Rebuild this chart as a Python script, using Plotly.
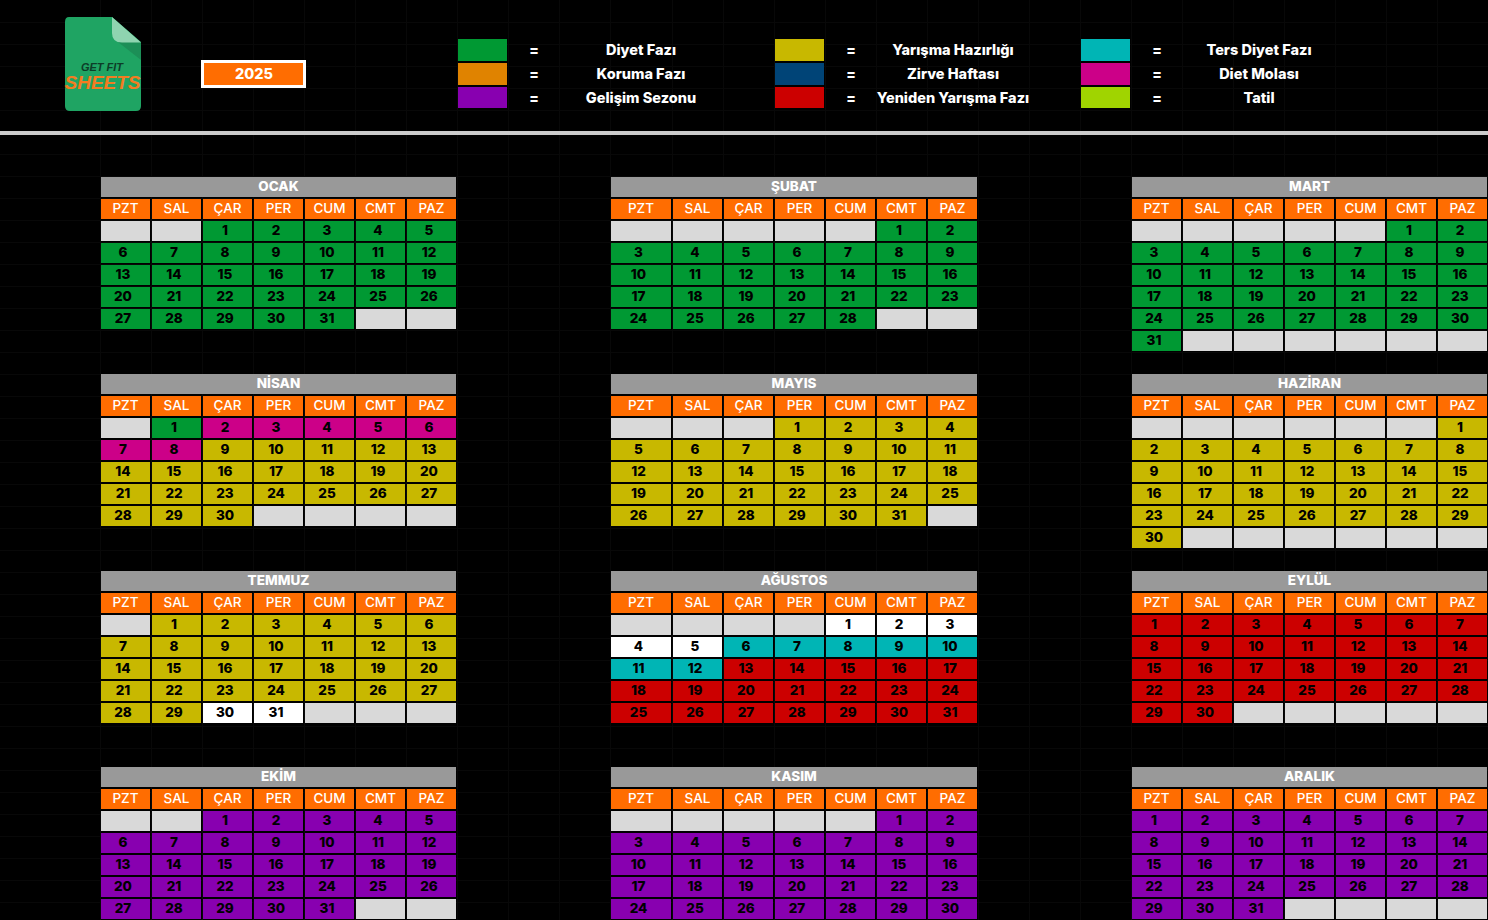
#!/usr/bin/env python3
# -*- coding: utf-8 -*-

import plotly.graph_objects as go

YEAR = "2025"
WEEKDAYS = ["PZT", "SAL", "ÇAR", "PER", "CUM", "CMT", "PAZ"]
MONTHS = ["OCAK", "ŞUBAT", "MART", "NİSAN", "MAYIS", "HAZİRAN",
          "TEMMUZ", "AĞUSTOS", "EYLÜL", "EKİM", "KASIM", "ARALIK"]
# weekday of the 1st (0 = PZT)
FIRST_WEEKDAY = [2, 5, 5, 1, 3, 6, 1, 4, 0, 2, 5, 0]
ROW_COUNT = [5, 5, 6, 5, 5, 6, 5, 5, 5, 5, 5, 5]
# (phase, number of days) in date order for each month
MONTH_PHASES = [
    [("diyet", 31)],
    [("diyet", 28)],
    [("diyet", 31)],
    [("diyet", 1), ("mola", 7), ("hazirlik", 22)],
    [("hazirlik", 31)],
    [("hazirlik", 30)],
    [("hazirlik", 29), ("bos_beyaz", 2)],
    [("bos_beyaz", 5), ("ters", 7), ("yeniden", 19)],
    [("yeniden", 30)],
    [("gelisim", 31)],
    [("gelisim", 30)],
    [("gelisim", 31)],
]

LEGEND_KEYS = [["diyet", "koruma", "gelisim"],
               ["hazirlik", "zirve", "yeniden"],
               ["ters", "mola", "tatil"]]
LEGEND_LABELS = [["Diyet Fazı", "Koruma Fazı", "Gelişim Sezonu"],
                 ["Yarışma Hazırlığı", "Zirve Haftası", "Yeniden Yarışma Fazı"],
                 ["Ters Diyet Fazı", "Diet Molası", "Tatil"]]

COLORS = {
    "diyet": "#009933",
    "koruma": "#e08300",
    "gelisim": "#8800b0",
    "hazirlik": "#c8b800",
    "zirve": "#004477",
    "yeniden": "#cc0000",
    "ters": "#00b5b5",
    "mola": "#cc0088",
    "tatil": "#a0d400",
    "bos_beyaz": "#ffffff",
    "bos": "#d9d9d9",
    "baslik": "#999999",
    "gun": "#ff6d01",
}
KEYS = list(COLORS)
COLORSCALE = [[i / (len(KEYS) - 1), COLORS[k]] for i, k in enumerate(KEYS)]

# page layout, in screen pixels
W, H = 1488, 920
COL_LEFT = [100, 610, 1131]
FIRST_COL_WIDTH = [51, 62, 51]
ROW_TOP = [176, 373, 570, 766]
PITCH_X, PITCH_Y = 51, 22
FONT = "Inter"

fig = go.Figure()


def add_cells(x_edges, y_edges, keys, xgap=2, ygap=2):
    fig.add_trace(go.Heatmap(
        x=x_edges, y=y_edges,
        z=[[KEYS.index(k) for k in row] for row in keys],
        colorscale=COLORSCALE, zmin=0, zmax=len(KEYS) - 1,
        showscale=False, xgap=xgap, ygap=ygap, hoverinfo="skip"))


def add_text(xs, ys, texts, size, color, weight=700, family=FONT, style="normal"):
    fig.add_trace(go.Scatter(
        x=xs, y=ys, text=texts, mode="text", textposition="middle center",
        textfont=dict(family=family, size=size, color=color, weight=weight,
                      style=style),
        showlegend=False, hoverinfo="skip"))


title_x, title_y, title_t = [], [], []
head_x, head_y, head_t = [], [], []
day_x, day_y, day_t = [], [], []

for m, month in enumerate(MONTHS):
    left = COL_LEFT[m % 3]
    top = ROW_TOP[m // 3]
    x_edges = [left, left + FIRST_COL_WIDTH[m % 3]]
    for c in range(6):
        x_edges.append(x_edges[-1] + PITCH_X)
    rows = ROW_COUNT[m]
    y_edges = [top + PITCH_Y * (r + 1) for r in range(rows + 2)]

    phases = []
    for phase, count in MONTH_PHASES[m]:
        phases += [phase] * count
    cells = ["bos"] * FIRST_WEEKDAY[m] + phases
    cells += ["bos"] * (7 * rows - len(cells))
    keys = [["gun"] * 7] + [cells[r * 7:r * 7 + 7] for r in range(rows)]

    add_cells([x_edges[0], x_edges[-1]], [top, top + PITCH_Y], [["baslik"]])
    add_cells(x_edges, y_edges, keys)

    title_x.append((x_edges[0] + x_edges[-1]) / 2)
    title_y.append(top + 11.5)
    title_t.append(month)
    for c, name in enumerate(WEEKDAYS):
        head_x.append((x_edges[c] + x_edges[c + 1]) / 2)
        head_y.append(y_edges[0] + 11.5)
        head_t.append(name)
    for d in range(len(phases)):
        pos = FIRST_WEEKDAY[m] + d
        c = pos % 7
        day_x.append((x_edges[c] + x_edges[c + 1]) / 2 - 2.5)
        day_y.append(y_edges[pos // 7 + 1] + 11.5)
        day_t.append(str(d + 1))

add_text(title_x, title_y, title_t, 13.5, "#ffffff", 800)
add_text(head_x, head_y, head_t, 13.5, "#ffffff", 500)
add_text(day_x, day_y, day_t, 13.5, "#000000", 800)

# legend block
swatch_left = [457, 774, 1080]
equals_x = [534, 851, 1157]
label_x = [641, 953, 1259]
swatch_edges = [38, 61.5, 86, 109]
legend_rows_y = [51, 75, 99]
for i in range(3):
    add_cells([swatch_left[i], swatch_left[i] + 51], swatch_edges,
              [[k] for k in LEGEND_KEYS[i]])
    add_text([equals_x[i]] * 3, legend_rows_y, ["="] * 3, 14, "#ffffff", 800)
    add_text([label_x[i]] * 3, legend_rows_y, LEGEND_LABELS[i], 14.5, "#ffffff", 800)

# year box
fig.add_trace(go.Heatmap(x=[201, 306], y=[60, 88], z=[[0]], showscale=False,
                         colorscale=[[0, "#ffffff"], [1, "#ffffff"]],
                         hoverinfo="skip"))
fig.add_trace(go.Heatmap(x=[204, 303], y=[63, 85], z=[[0]], showscale=False,
                         colorscale=[[0, "#ff6d01"], [1, "#ff6d01"]],
                         hoverinfo="skip"))
add_text([254], [75], [YEAR], 14.5, "#ffffff", 800)

# logo text
add_text([102], [68], ["GET FIT"], 11, "#0d3d28", 700, "Liberation Sans", "italic")
add_text([102.5], [84], ["SHEETS"], 19, "#f47c20", 700, "Liberation Sans", "italic")

shapes = [
    # separator under the header
    dict(type="rect", x0=0, x1=W, y0=131, y1=135, fillcolor="#cccccc",
         line_width=0, layer="between"),
    # logo sheet
    dict(type="path", layer="between", line_width=0, fillcolor="#1fa463",
         path="M 69 17 L 112 17 L 141 42 L 141 106 Q 141 111 136 111 "
              "L 70 111 Q 65 111 65 106 L 65 22 Q 65 17 69 17 Z"),
    dict(type="path", layer="between", line_width=0, fillcolor="#1c8f57",
         path="M 118 42 L 141 42 L 141 60 Z"),
    dict(type="path", layer="between", line_width=0, fillcolor="#8fd4b0",
         path="M 112 17 L 141 42.5 L 122 42.5 Q 112 42.5 112 33 Z"),
]

# faint spreadsheet grid behind everything
grid_x = [100 + 51 * i for i in range(11)] + [672 + 51 * i for i in range(17)]
grid_y = [22 * i for i in range(42)]

fig.update_layout(
    width=W, height=H,
    margin=dict(l=0, r=0, t=0, b=0),
    paper_bgcolor="#000000", plot_bgcolor="#000000",
    showlegend=False, shapes=shapes,
    xaxis=dict(range=[0, W], showticklabels=False, zeroline=False, ticks="",
               tickmode="array", tickvals=grid_x, gridcolor="#080808",
               gridwidth=1, showgrid=True, fixedrange=True),
    yaxis=dict(range=[H, 0], showticklabels=False, zeroline=False, ticks="",
               tickmode="array", tickvals=grid_y, gridcolor="#080808",
               gridwidth=1, showgrid=True, fixedrange=True),
)

fig.write_html("out.html", config=dict(displayModeBar=False),
               post_script="document.body.style.margin='0';"
                           "document.body.style.background='#000';"
                           "document.body.style.overflow='hidden';")
